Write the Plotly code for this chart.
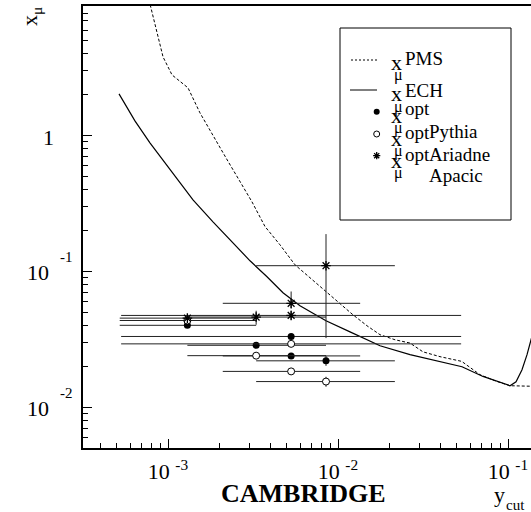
import math
import plotly.graph_objects as go

# ---------------- data ----------------
pms_x = [7.73e-4, 9.35e-4, 1.056e-3, 1.177e-3, 1.311e-3, 1.542e-3, 1.839e-3, 2.194e-3, 2.616e-3,
         3.119e-3, 3.72e-3, 4.558e-3, 5.586e-3, 6.844e-3, 8.498e-3, 1.027e-2, 1.225e-2,
         1.481e-2, 1.767e-2, 2.165e-2, 2.652e-2, 3.162e-2, 3.981e-2, 5.341e-2, 6.844e-2,
         8.384e-2, 1.027e-1, 1.366e-1, 1.45e-1]
pms_y = [10.0, 3.80, 2.80, 2.49, 2.25, 1.47, 0.995, 0.685, 0.472,
         0.325, 0.2138, 0.1567, 0.1116, 0.0896, 0.0710, 0.0586, 0.0478,
         0.0397, 0.0341, 0.0313, 0.0296, 0.0255, 0.0235, 0.0217, 0.0173,
         0.0156, 0.01435, 0.01423, 0.01423]

ech_x = [5.15e-4, 6.39e-4, 7.83e-4, 1.027e-3, 1.403e-3, 1.839e-3, 2.412e-3, 3.037e-3, 3.823e-3,
         4.747e-3, 5.976e-3, 8.498e-3, 1.177e-2, 1.767e-2, 2.652e-2, 3.981e-2, 5.363e-2,
         7.127e-2, 8.972e-2, 1.027e-1, 1.115e-1, 1.209e-1, 1.294e-1, 1.366e-1, 1.442e-1]
ech_y = [2.028, 1.283, 0.884, 0.559, 0.336, 0.2314, 0.1622, 0.1195, 0.0911,
         0.0695, 0.0557, 0.0432, 0.0358, 0.0283, 0.0243, 0.0216, 0.0198,
         0.0168, 0.0151, 0.01435, 0.01536, 0.01883, 0.0243, 0.0308, 0.0404]

pythia_x = [1.3e-3, 3.3e-3, 5.3e-3, 5.3e-3, 8.5e-3]
pythia_y = [0.040, 0.0285, 0.0331, 0.0238, 0.0219]
pythia_xlo = [5.2e-4, 1.3e-3, 5.3e-4, 2.1e-3, 3.3e-3]
pythia_xhi = [3.3e-3, 8.5e-3, 0.053, 0.0135, 0.0216]
pythia_ylo = [0.040, 0.0285, 0.0331, 0.0238, 0.0201]
pythia_yhi = [0.040, 0.0285, 0.0331, 0.0238, 0.0238]

ariadne_x = [1.3e-3, 3.3e-3, 5.3e-3, 5.3e-3, 8.5e-3]
ariadne_y = [0.0434, 0.0239, 0.0292, 0.0183, 0.0154]
ariadne_xlo = [5.2e-4, 1.3e-3, 5.3e-4, 2.1e-3, 3.3e-3]
ariadne_xhi = [3.3e-3, 8.5e-3, 0.053, 0.0135, 0.0216]
ariadne_ylo = [0.0434, 0.0239, 0.0292, 0.0183, 0.0141]
ariadne_yhi = [0.0434, 0.0239, 0.0292, 0.0183, 0.0167]

apacic_x = [1.3e-3, 3.3e-3, 5.3e-3, 5.3e-3, 8.5e-3]
apacic_y = [0.0452, 0.0460, 0.0581, 0.0473, 0.110]
apacic_xlo = [5.2e-4, 1.3e-3, 2.1e-3, 5.3e-4, 3.3e-3]
apacic_xhi = [3.3e-3, 8.5e-3, 0.0135, 0.053, 0.0216]
apacic_ylo = [0.0452, 0.0404, 0.0530, 0.0439, 0.0322]
apacic_yhi = [0.0452, 0.0512, 0.0710, 0.0512, 0.188]

x_tickvals = [1e-3, 1e-2, 1e-1]
x_ticktext = ["10 <sup>-3</sup>", "10 <sup>-2</sup>", "10 <sup>-1</sup>"]
y_tickvals = [1e-2, 1e-1, 1]
y_tickbase = ["10", "10", "1"]
y_tickexp = ["-2", "-1", ""]

legend_sups = ["PMS", "ECH", "opt", "opt", "opt"]
legend_subs = ["", "", "Pythia", "Ariadne", "Apacic"]

# ---------------- layout geometry ----------------
W, H = 531, 512
ML, MR, MT, MB = 83, 0, 6, 64
PW = W - ML - MR
PH = H - MT - MB
XRANGE = [-3.5, -3.5 + PW / 170.0]
YRANGE = [-2.302, 0.955]
FONT = "Liberation Serif"
LC = "#222222"


def pxx(X):
    return (X - ML) / PW


def pxy(Y):
    return (H - MB - Y) / PH


def errs(v, lo, hi):
    return [h - c for c, h in zip(v, hi)], [c - l for c, l in zip(v, lo)]


fig = go.Figure()

fig.add_trace(go.Scatter(x=pms_x, y=pms_y, mode="lines",
                         line=dict(color="black", width=1, dash="3px,2px"),
                         showlegend=False))
fig.add_trace(go.Scatter(x=ech_x, y=ech_y, mode="lines",
                         line=dict(color="black", width=1.2),
                         showlegend=False))


def add_pts(xs, ys, xlo, xhi, ylo, yhi, marker):
    ex, exm = errs(xs, xlo, xhi)
    ey, eym = errs(ys, ylo, yhi)
    fig.add_trace(go.Scatter(
        x=xs, y=ys, mode="markers", marker=marker, showlegend=False,
        error_x=dict(type="data", symmetric=False, array=ex, arrayminus=exm,
                     color=LC, thickness=1, width=0),
        error_y=dict(type="data", symmetric=False, array=ey, arrayminus=eym,
                     color=LC, thickness=1, width=0)))


mk_filled = dict(symbol="circle", size=7, color="black", line=dict(width=0))
mk_open = dict(symbol="circle", size=7, color="white", line=dict(color="black", width=1))
mk_star = dict(symbol="asterisk-open", size=8, color="black", line=dict(color="black", width=1.3))

add_pts(pythia_x, pythia_y, pythia_xlo, pythia_xhi, pythia_ylo, pythia_yhi, mk_filled)
add_pts(ariadne_x, ariadne_y, ariadne_xlo, ariadne_xhi, ariadne_ylo, ariadne_yhi, mk_open)
add_pts(apacic_x, apacic_y, apacic_xlo, apacic_xhi, apacic_ylo, apacic_yhi, mk_star)

# legend key glyphs on an overlay pixel axis
leg_marker_x = [376.7, 376.7, 376.7]
leg_marker_y = [111.7, 134, 155.7]
for mk, lx, ly in zip([mk_filled, mk_open, mk_star], leg_marker_x, leg_marker_y):
    m = dict(mk)
    m["size"] = 6
    fig.add_trace(go.Scatter(x=[lx], y=[ly], mode="markers", marker=m,
                             xaxis="x2", yaxis="y2", showlegend=False))

shapes = [
    dict(type="rect", xref="paper", yref="paper", x0=pxx(340), x1=pxx(511),
         y0=pxy(28), y1=pxy(220), line=dict(color="black", width=1)),
    dict(type="line", xref="paper", yref="paper", x0=pxx(351), x1=pxx(377),
         y0=pxy(60), y1=pxy(60), line=dict(color="black", width=1, dash="2px,2px")),
    dict(type="line", xref="paper", yref="paper", x0=pxx(350), x1=pxx(377),
         y0=pxy(90), y1=pxy(90), line=dict(color="black", width=1)),
]

anns = []


def ann(text, X, Y, size, xanchor="left", yanchor="middle", angle=0):
    anns.append(dict(text=text, x=pxx(X), y=pxy(Y), xref="paper", yref="paper",
                     showarrow=False, xanchor=xanchor, yanchor=yanchor,
                     textangle=angle, font=dict(family=FONT, size=size, color="black")))


# legend texts (rows: x glyph centre, superscript centre, subscript-word centre)
row_x = [62, 94, 115, 138, 160]
row_sup = [58, 90, 109, 132, 154]
row_sub = [None, None, 131, 154, 176]
for sup, sub, yx, ys, yb in zip(legend_sups, legend_subs, row_x, row_sup, row_sub):
    ann("x", 389, yx, 22)
    ann("μ", 392, yx + 13, 16)
    ann(sup, 403, ys, 19)
    if sub:
        ann(sub, 427, yb, 19)

# y tick labels
for v, b, e in zip(y_tickvals, y_tickbase, y_tickexp):
    Yp = MT + (YRANGE[1] - math.log10(v)) / (YRANGE[1] - YRANGE[0]) * PH
    ann(b, 51 if e else 56, Yp + 1.5, 22, xanchor="right")
    if e:
        ann(e, 58, Yp - 14, 15)

# axis titles
ann("x<sub>μ</sub>", 31, 17, 22, xanchor="center", angle=-90)
ann("<b>CAMBRIDGE</b>", 303.5, 493, 26, xanchor="center")
ann("y", 492, 494, 22)
ann("cut", 504, 505, 15)

fig.update_layout(
    width=W, height=H,
    margin=dict(l=ML, r=MR, t=MT, b=MB, pad=0),
    paper_bgcolor="white", plot_bgcolor="white",
    showlegend=False,
    shapes=shapes, annotations=anns,
    xaxis=dict(type="log", range=XRANGE, showgrid=False, zeroline=False,
               showline=True, linecolor="black", linewidth=1.5, mirror=True,
               ticks="inside", ticklen=9, tickwidth=1, tickcolor="black",
               tickmode="array", tickvals=x_tickvals, ticktext=x_ticktext,
               ticklabelstandoff=3,
               tickfont=dict(family=FONT, size=22, color="black"),
               minor=dict(ticks="inside", ticklen=5, tickwidth=1, tickcolor="black",
                          dtick="D1", showgrid=False)),
    yaxis=dict(type="log", range=YRANGE, showgrid=False, zeroline=False,
               showline=True, linecolor="black", linewidth=1.5, mirror=False,
               ticks="inside", ticklen=9, tickwidth=1, tickcolor="black",
               tickmode="array", tickvals=y_tickvals, showticklabels=False,
               minor=dict(ticks="inside", ticklen=5, tickwidth=1, tickcolor="black",
                          dtick="D1", showgrid=False)),
    xaxis2=dict(overlaying="x", range=[ML, W], visible=False, anchor="y2"),
    yaxis2=dict(overlaying="y", range=[H - MB, MT], visible=False, anchor="x2"),
)

fig.write_html("out.html")
